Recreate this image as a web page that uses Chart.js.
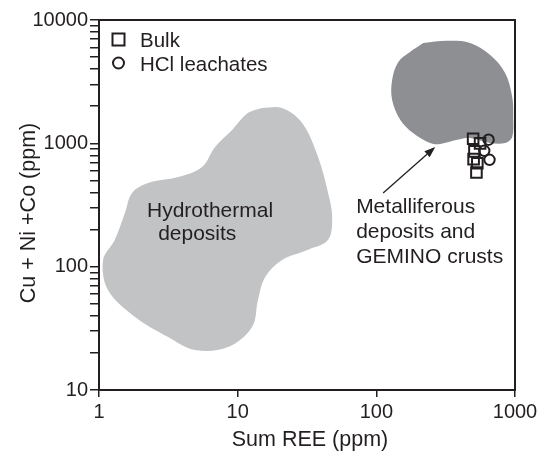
<!DOCTYPE html>
<html><head><meta charset="utf-8">
<script src="https://cdn.jsdelivr.net/npm/chart.js@4.4.1/dist/chart.umd.min.js"></script>
<style>html,body{margin:0;padding:0;background:#fff;}canvas{display:block;}</style>
</head><body>
<canvas id="c" width="542" height="454"></canvas>
<script>
// ---- data ----
const xTicks = [1, 10, 100, 1000];
const yTicks = [10, 100, 1000, 10000];

const bulkX = [499, 560, 510, 503, 535, 527];
const bulkY = [1090, 1000, 860, 745, 690, 580];

const hclX = [645, 600, 655];
const hclY = [1070, 870, 735];

const hydroX = [15.0, 20.9, 29.2, 38.0, 44.9, 48.0, 44.9, 32.2, 20.9, 15.8, 14.0, 12.7, 8.53, 4.93, 3.15, 1.82, 1.16, 1.07, 1.30, 1.54, 1.73, 2.26, 3.72, 5.53, 6.87, 9.12, 11.9, 15.0];
const hydroY = [1936, 1936, 1462, 776, 396, 253, 165, 137, 113, 82.5, 53.7, 32.4, 22.3, 21.1, 26.9, 39.1, 64.7, 113, 165, 273, 396, 477, 533, 644, 935, 1285, 1766, 1936];

const metalX = [218, 324, 475, 662, 849, 955, 971, 955, 849, 662, 475, 383, 289, 244, 184, 149, 130, 130, 144, 175, 218];
const metalY = [6516, 6780, 6516, 5210, 3725, 2377, 1637, 1127, 1007, 1007, 1107, 1067, 988, 1007, 1213, 1549, 2248, 3266, 4571, 5508, 6516];

const arrowX = [112, 266];
const arrowY = [396, 935];

const notes = [
  {text: 'Hydrothermal', x: 2.22, y: 253},
  {text: 'deposits', x: 2.67, y: 165},
  {text: 'Metalliferous', x: 71.5, y: 273},
  {text: 'deposits and', x: 71.5, y: 171},
  {text: 'GEMINO crusts', x: 71.5, y: 107}
];

const legendItems = [
  {label: 'Bulk', style: 'rect'},
  {label: 'HCl leachates', style: 'circle'}
];

const xTitle = 'Sum REE (ppm)';
const yTitle = 'Cu + Ni +Co (ppm)';

// ---- build ----
const zip = (xs, ys) => xs.map((x, i) => ({x, y: ys[i]}));
const INK = '#231f20';
const FONT = '"Liberation Sans", Arial, Helvetica, sans-serif';

const annot = {
  id: 'annot',
  afterDatasetsDraw(chart) {
    const {ctx, scales: {x, y}} = chart;
    const ca = chart.chartArea;
    ctx.save();
    ctx.fillStyle = INK;
    ctx.font = '21px ' + FONT;
    ctx.textBaseline = 'alphabetic';
    ctx.textAlign = 'left';
    notes.forEach(n => ctx.fillText(n.text, x.getPixelForValue(n.x), y.getPixelForValue(n.y)));
    // arrow
    const x0 = x.getPixelForValue(arrowX[0]), y0 = y.getPixelForValue(arrowY[0]);
    const x1 = x.getPixelForValue(arrowX[1]), y1 = y.getPixelForValue(arrowY[1]);
    const ang = Math.atan2(y1 - y0, x1 - x0);
    const hl = 11, hw = 4;
    ctx.strokeStyle = INK; ctx.lineWidth = 1.3;
    ctx.beginPath(); ctx.moveTo(x0, y0);
    ctx.lineTo(x1 - hl * Math.cos(ang), y1 - hl * Math.sin(ang)); ctx.stroke();
    ctx.beginPath();
    ctx.moveTo(x1, y1);
    ctx.lineTo(x1 - hl * Math.cos(ang) + hw * Math.sin(ang), y1 - hl * Math.sin(ang) - hw * Math.cos(ang));
    ctx.lineTo(x1 - hl * Math.cos(ang) - hw * Math.sin(ang), y1 - hl * Math.sin(ang) + hw * Math.cos(ang));
    ctx.closePath(); ctx.fill();
    // legend
    ctx.font = '20.5px ' + FONT;
    ctx.lineWidth = 2;
    legendItems.forEach((it, i) => {
      const cx = ca.left + 19.5, cy = ca.top + 19.5 + i * 23.5;
      ctx.beginPath();
      if (it.style === 'rect') ctx.rect(cx - 6, cy - 6, 12, 12);
      else ctx.arc(cx, cy, 5.5, 0, Math.PI * 2);
      ctx.stroke();
      ctx.fillText(it.label, ca.left + 41, cy + 7.5);
    });
    // frame
    ctx.lineWidth = 2;
    ctx.strokeStyle = INK;
    ctx.strokeRect(ca.left, ca.top, ca.right - ca.left, ca.bottom - ca.top);
    // axis titles
    ctx.font = '21.5px ' + FONT;
    ctx.textAlign = 'center';
    ctx.textBaseline = 'alphabetic';
    ctx.fillText(xTitle, (ca.left + ca.right) / 2 + 3, ca.bottom + 56);
    ctx.translate(ca.left - 64, (ca.top + ca.bottom) / 2 + 8);
    ctx.rotate(-Math.PI / 2);
    ctx.fillText(yTitle, 0, 0);
    ctx.restore();
  }
};

const yAll = [];
for (let e = 1; e <= 3; e++) for (let m = 1; m <= 9; m++) yAll.push(m * Math.pow(10, e));
yAll.push(10000);

new Chart(document.getElementById('c'), {
  type: 'scatter',
  data: {
    datasets: [
      {label: 'Bulk', data: zip(bulkX, bulkY), pointStyle: 'rect', pointRadius: 7.5,
       borderColor: INK, backgroundColor: 'rgba(0,0,0,0)', pointBorderWidth: 2, order: 0},
      {label: 'HCl leachates', data: zip(hclX, hclY), pointStyle: 'circle', pointRadius: 5.2,
       borderColor: INK, backgroundColor: 'rgba(0,0,0,0)', pointBorderWidth: 2, order: 1},
      {label: 'Metalliferous', data: zip(metalX, metalY), showLine: true, fill: 'shape',
       tension: 0.35, pointRadius: 0, borderWidth: 0, borderColor: 'rgba(0,0,0,0)',
       backgroundColor: '#8e8f93', order: 2},
      {label: 'Hydrothermal', data: zip(hydroX, hydroY), showLine: true, fill: 'shape',
       tension: 0.35, pointRadius: 0, borderWidth: 0, borderColor: 'rgba(0,0,0,0)',
       backgroundColor: '#c2c3c5', order: 3}
    ]
  },
  options: {
    responsive: false, animation: false, devicePixelRatio: 1,
    layout: {padding: {top: 20, right: 27, left: 0, bottom: 0}},
    plugins: {legend: {display: false}, tooltip: {enabled: false}},
    scales: {
      x: {
        type: 'logarithmic', min: 1, max: 1000,
        afterBuildTicks: s => { s.ticks = xTicks.map(v => ({value: v})); },
        afterFit: s => { s.height = 64; },
        ticks: {autoSkip: false, maxRotation: 0, color: INK, padding: 3,
                font: {family: FONT, size: 20}, callback: v => String(v)},
        grid: {drawOnChartArea: false, drawTicks: true, tickLength: 7, color: INK, lineWidth: 1.5},
        border: {display: true, color: INK, width: 2},
        title: {display: false}
      },
      y: {
        type: 'logarithmic', min: 10, max: 10000,
        afterBuildTicks: s => { s.ticks = yAll.map(v => ({value: v})); },
        afterFit: s => { s.width = 99; },
        ticks: {autoSkip: false, color: INK, padding: 2,
                font: {family: FONT, size: 20},
                callback: v => yTicks.includes(v) ? String(v) : ''},
        grid: {drawOnChartArea: false, drawTicks: true, tickLength: 9, color: INK, lineWidth: 1.5},
        border: {display: true, color: INK, width: 2},
        title: {display: false}
      }
    }
  },
  plugins: [annot]
});
</script>
</body></html>
